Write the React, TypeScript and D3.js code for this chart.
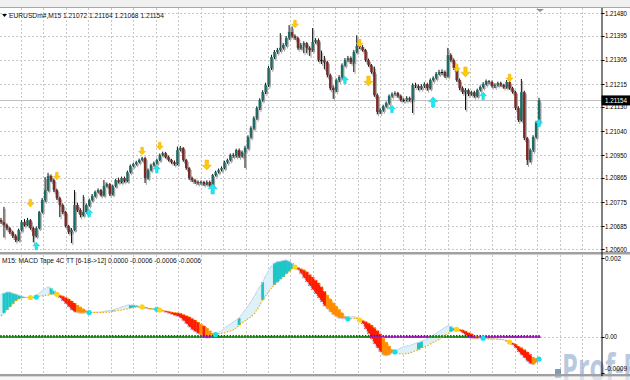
import React from "react";
import * as d3 from "d3";

// Prices are stored as points: price = 1.2 + pts / 100000
const firstOpenPts = 708;
const closePts = [
  701,690,678,663,649,634,671,701,690,708,
  678,649,678,738,783,820,872,857,820,790,
  764,738,686,663,671,764,745,727,738,764,
  783,798,813,820,801,835,842,805,835,857,
  850,865,854,887,910,917,924,932,939,865,
  895,913,921,932,951,958,943,932,924,917,
  969,977,932,902,865,857,850,846,850,842,
  850,839,876,887,895,902,924,932,951,947,
  969,947,962,977,1018,1051,1089,1126,1156,1185,
  1212,1275,1316,1335,1342,1350,1361,1387,1409,1394,
  1387,1350,1361,1368,1350,1342,1372,1379,1305,1305,
  1297,1249,1200,1193,1230,1241,1286,1305,1312,1297,
  1335,1357,1353,1342,1305,1286,1260,1174,1111,1118,
  1133,1144,1171,1178,1182,1171,1156,1156,1163,1156,
  1212,1208,1200,1208,1215,1200,1230,1238,1253,1260,
  1260,1245,1323,1305,1275,1230,1200,1185,1193,1178,
  1185,1171,1193,1204,1215,1226,1223,1208,1212,1219,
  1212,1204,1223,1200,1185,1126,1081,1185,1014,932,
  969,1018,1072,1154,
];
const highPts = [
  716,757,695,682,668,655,676,708,712,716,
  712,683,684,742,790,868,884,878,862,825,
  795,770,742,690,678,820,772,752,801,770,
  788,805,818,826,824,857,848,846,840,862,
  866,870,870,892,915,922,929,937,944,944,
  900,918,926,937,956,963,962,948,936,930,
  982,984,980,936,906,870,862,856,855,854,
  856,855,880,892,900,908,929,937,956,958,
  974,975,967,985,1024,1058,1095,1132,1162,1192,
  1220,1282,1324,1342,1350,1405,1368,1394,1435,1430,
  1400,1392,1368,1375,1372,1356,1424,1386,1385,1340,
  1320,1302,1254,1210,1236,1248,1292,1312,1320,1318,
  1342,1397,1364,1360,1346,1310,1290,1280,1180,1124,
  1138,1150,1176,1184,1188,1186,1176,1162,1170,1168,
  1218,1220,1214,1214,1222,1220,1236,1244,1260,1268,
  1270,1266,1350,1330,1310,1280,1236,1206,1200,1198,
  1190,1190,1198,1210,1222,1232,1230,1228,1218,1224,
  1224,1216,1230,1228,1205,1190,1132,1234,1190,1018,
  975,1024,1078,1164,
];
const lowPts = [
  694,643,670,656,641,626,630,666,684,686,
  672,625,644,674,733,776,815,850,812,783,
  719,730,680,656,622,668,738,718,722,733,
  758,778,793,808,796,797,830,798,800,830,
  845,845,848,850,882,905,912,920,927,846,
  860,890,908,916,928,946,938,927,918,911,
  913,964,926,896,858,850,843,840,841,836,
  838,833,834,871,882,890,898,918,927,941,
  942,940,942,902,972,1012,1045,1082,1118,1150,
  1178,1205,1268,1308,1328,1336,1344,1355,1380,1388,
  1380,1343,1344,1330,1330,1320,1336,1366,1298,1290,
  1270,1240,1192,1160,1185,1222,1235,1280,1298,1290,
  1260,1330,1346,1336,1298,1280,1254,1168,1102,1104,
  1112,1128,1138,1165,1172,1164,1150,1148,1150,1150,
  1107,1200,1192,1194,1200,1190,1195,1224,1232,1248,
  1250,1238,1240,1298,1268,1224,1192,1178,1118,1170,
  1172,1164,1166,1188,1198,1210,1216,1202,1200,1206,
  1206,1198,1198,1194,1180,1118,1074,1076,1006,913,
  922,962,1012,1068,
];

// MACD(6,18) main line and signal(12), in units of 0.00001
const macdPts = [
  109,111,114,114,111,109,106,104,101,100,
  99,100,104,111,117,122,127,124,117,108,
  99,91,84,76,68,63,61,60,60,61,
  62,62,63,63,63,65,66,67,68,71,
  73,76,78,81,81,81,80,77,75,73,
  71,70,72,71,67,65,62,60,57,54,
  52,48,41,33,25,18,13,8,4,-1,
  -3,-2,2,6,11,16,22,28,33,38,
  43,48,58,68,78,89,101,114,127,139,
  154,167,180,187,191,192,194,195,192,187,
  177,170,160,149,139,129,119,109,99,89,
  78,71,63,56,51,47,46,46,48,51,
  52,49,43,33,20,8,-5,-18,-28,-38,
  -46,-48,-46,-41,-37,-32,-28,-25,-23,-22,
  -19,-16,-14,-11,-8,-4,0,4,9,14,
  19,24,28,27,23,19,15,10,4,-1,
  -4,-5,-5,-4,-3,-3,-4,-4,-5,-5,
  -6,-7,-10,-14,-20,-28,-38,-46,-53,-62,
  -68,-71,-66,-58,
];
const signalPts = [
  53,61,68,76,84,91,96,99,100,100,
  100,100,101,103,104,105,106,108,108,108,
  106,104,100,96,91,86,81,76,71,66,
  62,62,62,62,62,62,63,63,65,66,
  67,68,70,71,73,75,76,76,76,75,
  73,72,71,70,68,67,66,65,63,62,
  61,60,57,54,51,47,43,38,33,28,
  23,16,10,6,8,9,10,13,15,18,
  23,30,35,41,46,51,58,68,81,94,
  104,114,124,132,139,146,152,160,166,172,
  177,176,173,170,165,158,152,144,137,127,
  116,106,96,87,78,70,61,52,46,46,
  47,47,43,42,39,35,30,24,16,8,
  -3,-13,-23,-32,-38,-42,-43,-43,-42,-41,
  -38,-35,-32,-28,-25,-22,-18,-14,-10,-6,
  -1,4,8,13,16,19,19,18,15,11,
  8,4,1,-1,-3,-4,-5,-5,-5,-6,
  -6,-7,-9,-13,-15,-18,-23,-27,-32,-38,
  -44,-51,-54,-56,
];

const crossUpBars = [12, 30, 53, 73, 118, 134, 164, 183];
const crossDownBars = [10, 19, 48, 54, 100, 122, 155, 173];

// signal arrows on the price chart: bar index, price in points, size class
const sellBars = [10, 19, 48, 54, 70, 100, 122, 125, 155, 158, 173];
const sellPts = [771, 872, 965, 984, 913, 1439, 1368, 1226, 1275, 1260, 1238];
const sellBig = [0, 0, 0, 0, 1, 0, 0, 1, 0, 1, 0];
const buyBars = [12, 30, 53, 72, 117, 133, 147, 164, 183];
const buyPts = [611, 734, 898, 824, 1230, 1122, 1148, 1171, 1070];
const buyBig = [0, 0, 0, 1, 0, 0, 1, 0, 0];

const priceTickLabels = ["1.21480","1.21395","1.21305","1.21215","1.21130","1.21040","1.20950","1.20865","1.20775","1.20685","1.20600"];
const macdTickLabels = ["0.002", "0.00", "-0.0009"];
const macdTickValues = [0.002, 0, -0.0009];
const symbol = "EURUSDm#,M15";
const indicatorName = "M15: MACD Tape 4C TT [6-18->12]";

const FONT = "'Liberation Sans', Arial, sans-serif";

const fmtP = (p: number) => (1.2 + p / 100000).toFixed(5);
const fmtM = (m: number) => (m / 100000).toFixed(4);

function arrow(cx: number, cy: number, s: number, down: boolean) {
  const d = down ? 1 : -1;
  const hw = s * 0.46, sw = s * 0.17, h = s;
  const yTop = cy - d * h / 2, yMid = cy + d * h * 0.02, yTip = cy + d * h / 2;
  return `M${cx - sw},${yTop}L${cx + sw},${yTop}L${cx + sw},${yMid}L${cx + hw},${yMid}L${cx},${yTip}L${cx - hw},${yMid}L${cx - sw},${yMid}Z`;
}

export default function App() {
  const N = closePts.length;
  const opens = closePts.map((c, i) => (i === 0 ? firstOpenPts : closePts[i - 1]));
  const x = d3.scaleLinear().domain([0, N - 1]).range([1, 539]);
  const step = x(1) - x(0);
  const py = d3.scaleLinear().domain([600, 1480]).range([249, 13]);
  const my = d3.scaleLinear().domain([-0.0009, 0.002]).range([372.5, 258]);
  const mY = (p: number) => my(p / 100000);

  const plotR = 601.5;
  const gridX = d3.range(26).map((k) => 21 + 22.45 * k);
  const priceTicks = priceTickLabels.map((s) => (parseFloat(s) - 1.2) * 100000);

  const hist = macdPts.map((m, i) => m - signalPts[i]);
  const histColor = (i: number) => {
    const h = hist[i];
    const p = i > 0 ? hist[i - 1] : h;
    if (h > 0) return Math.abs(h) >= Math.abs(p) ? "#dcf1f8" : "#1fc6c8";
    if (h < 0) return Math.abs(h) >= Math.abs(p) ? "#ff1a00" : "#ff8c00";
    return "none";
  };

  const sigLine = d3.line<number>().x((_, i) => x(i)).y((v) => mY(v));
  const macdLine = d3.line<number>().x((_, i) => x(i)).y((v) => mY(v));

  const last = N - 1;
  const title = `${symbol}  ${fmtP(opens[last])} ${fmtP(highPts[last])} ${fmtP(lowPts[last])} ${fmtP(closePts[last])}`;
  const subTitle = `${indicatorName} ${fmtM(0)} ${fmtM(macdPts[last])} ${fmtM(signalPts[last])} ${fmtM(macdPts[last])}`;
  const lastY = py(closePts[last]);

  return (
    <svg width={630} height={380} style={{ position: "fixed", left: 0, top: 0, background: "#fff" }} fontFamily={FONT}>
      <defs>
        <clipPath id="mainClip"><rect x={0} y={8} width={plotR} height={244} /></clipPath>
        <clipPath id="subClip"><rect x={0} y={255} width={plotR} height={119} /></clipPath>
      </defs>
      <rect x={0} y={0} width={630} height={380} fill="#fff" />
      <rect x={0} y={0} width={630} height={7} fill="#f0f0f0" />
      <line x1={0} x2={630} y1={7.5} y2={7.5} stroke="#a8a8a8" strokeWidth={1} />

      {/* grids */}
      <g stroke="#c8c8c8" strokeWidth={1} strokeDasharray="2,2">
        {gridX.map((gx, k) => (
          <line key={"v" + k} x1={Math.round(gx) + 0.5} x2={Math.round(gx) + 0.5} y1={8} y2={252} />
        ))}
        {gridX.map((gx, k) => (
          <line key={"vs" + k} x1={Math.round(gx) + 0.5} x2={Math.round(gx) + 0.5} y1={255} y2={374} />
        ))}
        {priceTicks.map((p, k) => (
          <line key={"h" + k} x1={0} x2={plotR} y1={Math.round(py(p)) + 0.5} y2={Math.round(py(p)) + 0.5} />
        ))}
        <line x1={0} x2={plotR} y1={Math.round(my(0)) + 0.5} y2={Math.round(my(0)) + 0.5} />
      </g>

      {/* bid line */}
      <line x1={0} x2={plotR} y1={Math.round(lastY) + 0.5} y2={Math.round(lastY) + 0.5} stroke="#c0c0c0" strokeWidth={1} />

      {/* candles */}
      <g clipPath="url(#mainClip)">
        {closePts.map((c, i) => {
          const o = opens[i];
          const cx = x(i);
          const yT = py(Math.max(o, c)), yB = py(Math.min(o, c));
          const bh = Math.max(1, yB - yT);
          return (
            <g key={"s" + i} fill="#a6a6a6" stroke="#a6a6a6">
              <line x1={cx + 1.3} x2={cx + 1.3} y1={py(highPts[i]) + 2} y2={py(lowPts[i]) + 2} strokeWidth={1} />
              <rect x={cx - 0.1} y={yT + 2} width={2.6} height={bh} stroke="none" />
            </g>
          );
        })}
        {closePts.map((c, i) => {
          const o = opens[i];
          const cx = x(i);
          const yT = py(Math.max(o, c)), yB = py(Math.min(o, c));
          const bh = Math.max(1, yB - yT);
          const up = c > o;
          return (
            <g key={"c" + i}>
              <line x1={cx} x2={cx} y1={py(highPts[i])} y2={py(lowPts[i])} stroke="#111" strokeWidth={1} />
              <rect x={cx - 1.2} y={yT} width={2.4} height={bh} fill={c === o ? "#111" : up ? "#1e6a64" : "#7a2a26"} />
            </g>
          );
        })}
        {sellBars.map((b, k) => (
          <path key={"sa" + k} d={arrow(x(b), py(sellPts[k]), sellBig[k] ? 10 : 7.5, true)} fill="#ffcc00" stroke="#e6a800" strokeWidth={0.5} />
        ))}
        {buyBars.map((b, k) => (
          <path key={"ba" + k} d={arrow(x(b), py(buyPts[k]), buyBig[k] ? 10 : 7.5, false)} fill="#1ee8f0" stroke="#18c8d8" strokeWidth={0.5} />
        ))}
      </g>

      {/* MACD subwindow */}
      <g clipPath="url(#subClip)">
        {macdPts.map((m, i) => {
          const col = histColor(i);
          if (col === "none") return null;
          const y1 = mY(Math.max(m, signalPts[i]));
          const y2 = mY(Math.min(m, signalPts[i]));
          return <rect key={"h" + i} x={x(i) - step / 2} y={y1} width={step + 0.3} height={Math.max(0.8, y2 - y1)} fill={col} />;
        })}
        <path d={macdLine(macdPts) || ""} fill="none" stroke="#c4d2ee" strokeWidth={1} />
        {/* zero line coloured by MACD sign */}
        {macdPts.map((m, i) => (
          <g key={"z" + i}>
            <line x1={x(i) - step / 2} x2={x(i) + step / 2} y1={my(0)} y2={my(0)} stroke={m >= 0 ? "#1f8f1f" : "#a21fb8"} strokeWidth={2} />
            <rect x={x(i) - 0.7} y={my(0) - 2} width={1.4} height={1.4} fill={m >= 0 ? "#0b5a0b" : "#6a0a80"} />
          </g>
        ))}
        <path d={sigLine(signalPts) || ""} fill="none" stroke="#f7a800" strokeWidth={1.1} strokeDasharray="1.5,1.5" />
        {crossUpBars.map((b, k) => (
          <circle key={"cu" + k} cx={x(b)} cy={mY(signalPts[b])} r={2.6} fill="#14e0ec" />
        ))}
        {crossDownBars.map((b, k) => (
          <circle key={"cd" + k} cx={x(b)} cy={mY(signalPts[b])} r={2.6} fill="#ffd21a" />
        ))}
      </g>

      {/* watermark */}
      <g opacity={0.6}>
        <rect x={555} y={369} width={6} height={9} fill="#2a5a9a" />
        <text x={562} y={381} fontSize={38} fontWeight="bold" fill="#8aa6cc" fontFamily="'Open Sans', sans-serif" textLength={92} lengthAdjust="spacingAndGlyphs">Prof-FX</text>
      </g>

      {/* window separators */}
      <rect x={0} y={252} width={630} height={2.5} fill="#a0a0a0" />
      <rect x={0} y={374} width={630} height={2.5} fill="#a0a0a0" />
      <rect x={0} y={376.5} width={630} height={3.5} fill="#f0f0f0" opacity={0.6} />

      {/* right axis */}
      <line x1={plotR + 0.5} x2={plotR + 0.5} y1={8} y2={376} stroke="#000" strokeWidth={1} />
      <g fontSize={7} fill="#000">
        {priceTicks.map((p, k) => (
          <g key={"pt" + k}>
            <line x1={plotR} x2={plotR + 3} y1={Math.round(py(p)) + 0.5} y2={Math.round(py(p)) + 0.5} stroke="#000" />
            <text x={605} y={py(p)} dominantBaseline="central" textLength={22} lengthAdjust="spacingAndGlyphs">{priceTickLabels[k]}</text>
          </g>
        ))}
        {macdTickValues.map((v, k) => (
          <g key={"mt" + k}>
            <line x1={plotR} x2={plotR + 3} y1={Math.round(my(v)) + 0.5} y2={Math.round(my(v)) + 0.5} stroke="#000" />
            <text x={605} y={k === 2 ? my(v) - 4.5 : my(v)} dominantBaseline="central" textLength={[16, 12, 22][k]} lengthAdjust="spacingAndGlyphs">{macdTickLabels[k]}</text>
          </g>
        ))}
      </g>
      <rect x={plotR} y={lastY - 5} width={630 - plotR} height={10} fill="#000" />
      <text x={605} y={lastY} dominantBaseline="central" fontSize={7} fill="#fff" textLength={22} lengthAdjust="spacingAndGlyphs">{fmtP(closePts[last])}</text>
      <path d="M536,9L544,9L540,12Z" fill="#909090" />

      {/* titles */}
      <path d="M2,14L7,14L4.5,17Z" fill="#000" />
      <text x={9} y={18} fontSize={7.5} fill="#111" textLength={155} lengthAdjust="spacingAndGlyphs">{title}</text>
      <text x={2} y={262.5} fontSize={7.5} fill="#111" textLength={199} lengthAdjust="spacingAndGlyphs">{subTitle}</text>
    </svg>
  );
}
